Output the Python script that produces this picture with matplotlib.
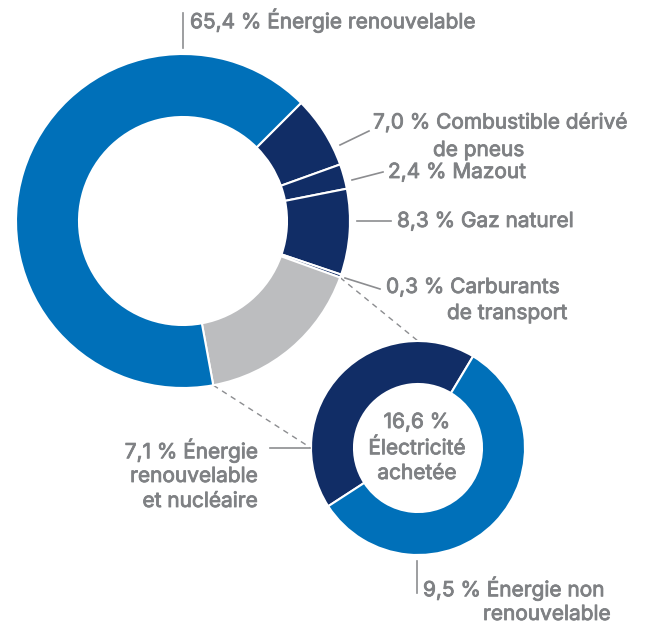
import numpy as np
import matplotlib.pyplot as plt
import matplotlib.patheffects as pe

plt.rcParams['font.family'] = ['Inter', 'DejaVu Sans']

# part de chaque source (%), dans l'ordre horaire depuis 45 deg
sources = ['Combustible dérivé de pneus', 'Mazout', 'Gaz naturel',
           'Carburants de transport', 'Électricité achetée', 'Énergie renouvelable']
parts = [7.0, 2.4, 8.3, 0.3, 16.6, 65.4]

# détail de l'électricité achetée
elec_sources = ['Énergie renouvelable et nucléaire', 'Énergie non renouvelable']
elec_parts = [7.1, 9.5]

BLUE = '#0070b9'
NAVY = '#112d66'
GREY = '#bcbdbf'
TXT = '#7f8184'
LINE = '#8c8d90'

W, H = 649, 626
fig = plt.figure(figsize=(W / 100, H / 100), dpi=100)
ax = fig.add_axes([0, 0, 1, 1])

def Y(y):
    # coordonnées image -> axes
    return H - y

# grand anneau
cx, cy, R, r = 183, Y(221), 167, 104
ax.pie(parts, colors=[NAVY, NAVY, NAVY, NAVY, GREY, BLUE], startangle=45,
       counterclock=False, center=(cx, cy), radius=R, frame=True,
       wedgeprops=dict(width=R - r, edgecolor='white', linewidth=1.5))

# petit anneau
sx, sy, SR, sr = 418, Y(448), 107, 64
ax.pie(elec_parts, colors=[NAVY, BLUE], startangle=59, counterclock=True,
       center=(sx, sy), radius=SR, frame=True,
       wedgeprops=dict(width=SR - sr, edgecolor='white', linewidth=1.5))

# lignes pointillées vers le détail
cum = np.cumsum(parts)
a1 = np.deg2rad(45 - 360 * cum[3] / 100)
a2 = np.deg2rad(45 - 360 * cum[4] / 100)
ax.plot([cx + R * np.cos(a1), sx], [cy + R * np.sin(a1), sy + SR],
        ls=(0, (4, 3.5)), color=LINE, lw=1, zorder=0)
ax.plot([cx + R * np.cos(a2), sx - SR], [cy + R * np.sin(a2), sy],
        ls=(0, (4, 3.5)), color=LINE, lw=1, zorder=0)

fs = 15
bold = [pe.withStroke(linewidth=0.6, foreground=TXT)]
def lead(x0, y0, x1, y1):
    ax.plot([x0, x1], [Y(y0), Y(y1)], color=LINE, lw=1.2)

def txt(x, y, s, ha='left'):
    ax.text(x, Y(y), s, ha=ha, va='center', fontsize=fs, color=TXT,
            path_effects=bold)

lead(183, 13, 183, 48)
txt(190, 20, '65,4 % Énergie renouvelable')

lead(340, 145, 369, 131)
txt(373, 122, '7,0 % Combustible dérivé')
txt(433, 150, 'de pneus')

lead(352, 180, 383, 172)
txt(388, 172, '2,4 % Mazout')

lead(357, 221, 391, 221)
txt(397, 221, '8,3 % Gaz naturel')

lead(345, 278, 380, 289)
txt(386, 287, '0,3 % Carburants')
txt(447, 313, 'de transport')

lead(270, 448, 310, 448)
txt(258, 450, '7,1 % Énergie', ha='right')
txt(258, 476, 'renouvelable', ha='right')
txt(258, 501, 'et nucléaire', ha='right')

txt(417, 422, '16,6 %', ha='center')
txt(417, 448, 'Électricité', ha='center')
txt(417, 473, 'achetée', ha='center')

lead(417, 561, 417, 593)
txt(423, 588, '9,5 % Énergie non')
txt(483, 614, 'renouvelable')

ax.set_xlim(0, W)
ax.set_ylim(0, H)
ax.set_aspect('equal')
ax.axis('off')

fig.savefig('out.png', dpi=100)
